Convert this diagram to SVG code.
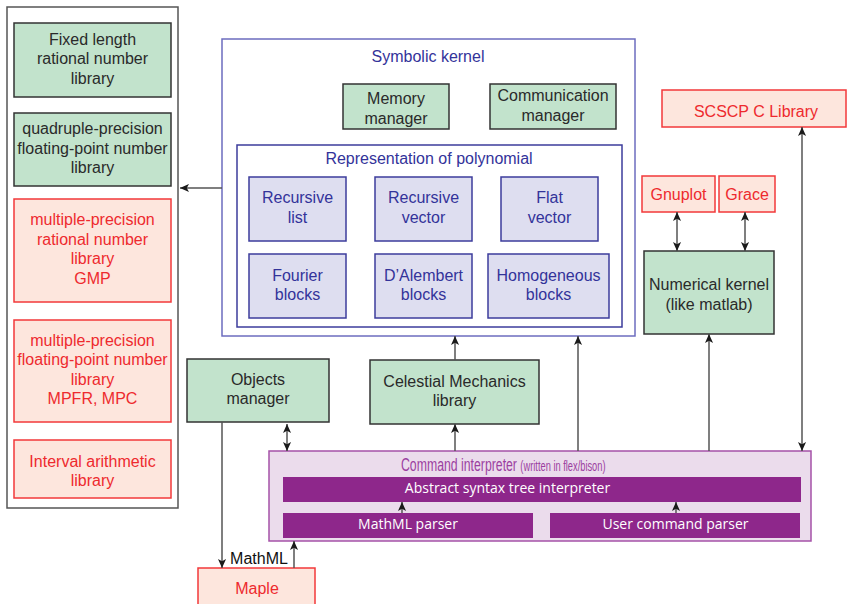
<svg xmlns="http://www.w3.org/2000/svg" width="847" height="604" viewBox="0 0 847 604">
<defs>
<marker id="ah" viewBox="0 0 10 10" refX="10" refY="5" markerWidth="9" markerHeight="9" markerUnits="userSpaceOnUse" orient="auto-start-reverse">
<path d="M0,0.5 L10,5 L0,9.5 L2.5,5 z" fill="#1a1a1a"/>
</marker>
<style>
text{font-family:"Liberation Sans",Arial,sans-serif;font-size:16px;text-anchor:middle}
.green{fill:#c2e3cc;stroke:#333;stroke-width:1.5}
.red{fill:#fde6dd;stroke:#f2383a;stroke-width:1.5}
.redt{fill:#ee2a2e}
.dark{fill:#2a2a2a}
.kern{fill:#fff;stroke:#6c6cbf;stroke-width:1.5}
.rep{fill:#fff;stroke:#3c3c9c;stroke-width:1.5}
.inner{fill:#dedef0;stroke:#3c3c9c;stroke-width:1.5}
.bluet{fill:#33339a}
.cmd{fill:#ebdcec;stroke:#a552a8;stroke-width:1.5}
.bar{fill:#8e278b}
.bart{fill:#fff;font-family:"Open Sans","Liberation Sans",sans-serif;font-size:14px}
.con{fill:none;stroke:#555;stroke-width:1.5}
</style>
</defs>

<g id="libraries">
<rect x="7" y="7" width="171" height="501" fill="#fff" stroke="#555" stroke-width="1.5"/>
</g>
<g id="fixed-length">
<rect class="green" x="14" y="23" width="157" height="74"/>
<text class="dark" x="92.5" y="44.5">Fixed length</text>
<text class="dark" x="92.5" y="64">rational number</text>
<text class="dark" x="92.5" y="83.5">library</text>
</g>
<g id="quadruple">
<rect class="green" x="14" y="113" width="157" height="73"/>
<text class="dark" x="92.5" y="134">quadruple-precision</text>
<text class="dark" x="92.5" y="153.5">floating-point number</text>
<text class="dark" x="92.5" y="173">library</text>
</g>
<g id="gmp">
<rect class="red" x="14" y="199" width="157" height="103"/>
<text class="redt" x="92.5" y="225">multiple-precision</text>
<text class="redt" x="92.5" y="244.5">rational number</text>
<text class="redt" x="92.5" y="264">library</text>
<text class="redt" x="92.5" y="283.5">GMP</text>
</g>
<g id="mpfr">
<rect class="red" x="14" y="320" width="157" height="102"/>
<text class="redt" x="92.5" y="345.5">multiple-precision</text>
<text class="redt" x="92.5" y="365">floating-point number</text>
<text class="redt" x="92.5" y="384.5">library</text>
<text class="redt" x="92.5" y="404">MPFR, MPC</text>
</g>
<g id="interval">
<rect class="red" x="14" y="440" width="157" height="58"/>
<text class="redt" x="92.5" y="466.5">Interval arithmetic</text>
<text class="redt" x="92.5" y="485.5">library</text>
</g>

<g id="symbolic-kernel">
<rect class="kern" x="222" y="39" width="413" height="297"/>
<text class="bluet" x="428" y="61.5">Symbolic kernel</text>
</g>
<g id="memory-manager">
<rect class="green" x="343" y="84" width="106" height="45"/>
<text class="dark" x="396" y="103.5">Memory</text>
<text class="dark" x="396" y="123.5">manager</text>
</g>
<g id="communication-manager">
<rect class="green" x="490" y="84" width="126" height="45"/>
<text class="dark" x="553" y="100.5">Communication</text>
<text class="dark" x="553" y="120.5">manager</text>
</g>
<g id="representation">
<rect class="rep" x="237" y="145" width="385" height="182"/>
<text class="bluet" x="429" y="163.5">Representation of polynomial</text>
</g>
<g id="recursive-list">
<rect class="inner" x="249" y="177" width="97" height="64"/>
<text class="bluet" x="297.5" y="202.5">Recursive</text>
<text class="bluet" x="297.5" y="222.5">list</text>
</g>
<g id="recursive-vector">
<rect class="inner" x="375" y="177" width="97" height="64"/>
<text class="bluet" x="423.5" y="202.5">Recursive</text>
<text class="bluet" x="423.5" y="222.5">vector</text>
</g>
<g id="flat-vector">
<rect class="inner" x="501" y="177" width="97" height="64"/>
<text class="bluet" x="549.5" y="202.5">Flat</text>
<text class="bluet" x="549.5" y="222.5">vector</text>
</g>
<g id="fourier-blocks">
<rect class="inner" x="249" y="254" width="97" height="64"/>
<text class="bluet" x="297.5" y="280.5">Fourier</text>
<text class="bluet" x="297.5" y="299.5">blocks</text>
</g>
<g id="dalembert-blocks">
<rect class="inner" x="375" y="254" width="97" height="64"/>
<text class="bluet" x="423.5" y="280.5">D’Alembert</text>
<text class="bluet" x="423.5" y="299.5">blocks</text>
</g>
<g id="homogeneous-blocks">
<rect class="inner" x="488" y="254" width="121" height="64"/>
<text class="bluet" x="548.5" y="280.5">Homogeneous</text>
<text class="bluet" x="548.5" y="299.5">blocks</text>
</g>

<g id="objects-manager">
<rect class="green" x="187" y="359" width="142" height="63"/>
<text class="dark" x="258" y="384.5">Objects</text>
<text class="dark" x="258" y="403.5">manager</text>
</g>
<g id="celestial-mechanics">
<rect class="green" x="370" y="360" width="169" height="64"/>
<text class="dark" x="454.5" y="386.5">Celestial Mechanics</text>
<text class="dark" x="454.5" y="405.5">library</text>
</g>

<g id="command-interpreter">
<rect class="cmd" x="269" y="451" width="542" height="90"/>
<text transform="translate(401,470.5) scale(0.664,1)" style="text-anchor:start;fill:#9b3fa0"><tspan style="font-size:18.5px">Command interpreter </tspan><tspan style="font-size:14px">(written in flex/bison)</tspan></text>
</g>
<g id="ast-interpreter">
<rect class="bar" x="283" y="477" width="518" height="25"/>
<text class="bart" x="507.5" y="493">Abstract syntax tree interpreter</text>
</g>
<g id="mathml-parser">
<rect class="bar" x="283" y="513" width="250" height="25"/>
<text class="bart" x="408" y="529">MathML parser</text>
</g>
<g id="user-command-parser">
<rect class="bar" x="550" y="513" width="250" height="25"/>
<text class="bart" x="675.5" y="529">User command parser</text>
</g>

<g id="maple">
<rect class="red" x="198" y="568" width="117" height="40"/>
<text class="redt" x="257" y="593.5">Maple</text>
</g>

<g id="scscp">
<rect class="red" x="662" y="90" width="184" height="37"/>
<text class="redt" x="756" y="116.5">SCSCP C Library</text>
</g>
<g id="gnuplot">
<rect class="red" x="642" y="176" width="73" height="36"/>
<text class="redt" x="678.5" y="199.5">Gnuplot</text>
</g>
<g id="grace">
<rect class="red" x="719" y="176" width="56" height="36"/>
<text class="redt" x="747" y="199.5">Grace</text>
</g>
<g id="numerical-kernel">
<rect class="green" x="644" y="251" width="130" height="83"/>
<text class="dark" x="709" y="289.5">Numerical kernel</text>
<text class="dark" x="709" y="309.5">(like matlab)</text>
</g>

<g id="connectors">
<path class="con" d="M222,188 H180" marker-end="url(#ah)"/>
<path class="con" d="M222,422 V568" marker-end="url(#ah)"/>
<path class="con" d="M294,568 V541" marker-end="url(#ah)"/>
<path class="con" d="M287,424 V451" marker-start="url(#ah)" marker-end="url(#ah)"/>
<path class="con" d="M455,360 V336" marker-end="url(#ah)"/>
<path class="con" d="M455,451 V424" marker-end="url(#ah)"/>
<path class="con" d="M578,451 V336" marker-end="url(#ah)"/>
<path class="con" d="M709,451 V334" marker-end="url(#ah)"/>
<path class="con" d="M802,127 V451" marker-start="url(#ah)" marker-end="url(#ah)"/>
<path class="con" d="M677,212 V251" marker-start="url(#ah)" marker-end="url(#ah)"/>
<path class="con" d="M745,212 V251" marker-start="url(#ah)" marker-end="url(#ah)"/>
<path class="con" d="M402,513 V502" marker-end="url(#ah)"/>
<path class="con" d="M676,513 V502" marker-end="url(#ah)"/>
<text x="259" y="563.5" style="fill:#111">MathML</text>
</g>
</svg>
